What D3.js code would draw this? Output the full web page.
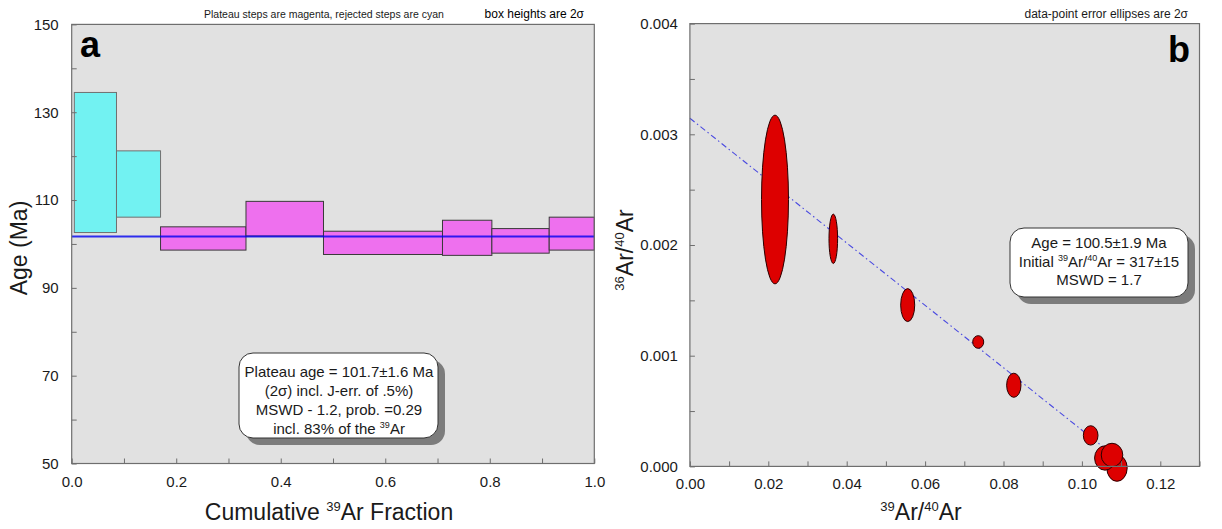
<!DOCTYPE html>
<html><head><meta charset="utf-8">
<script src="https://cdn.jsdelivr.net/npm/d3@7"></script>
<style>body{margin:0;background:#fff}svg{display:block;font-family:"Liberation Sans",Arial,sans-serif}</style>
</head><body><svg id="c" width="1222" height="529"></svg>
<script>
// ---------- Panel a data: step-heating age spectrum ----------
const stepStart   = [0.005, 0.0857, 0.170, 0.3335, 0.4818, 0.7095, 0.804, 0.9137];
const stepEnd     = [0.0857, 0.170, 0.3335, 0.4818, 0.7095, 0.804, 0.9137, 1.0];
const ageHigh     = [134.5, 121.2, 103.9, 109.7, 102.9, 105.4, 103.5, 106.1];
const ageLow      = [102.6, 106.1, 98.6, 101.8, 97.6, 97.4, 97.9, 98.6];
const stepPlateau = [false, false, true, true, true, true, true, true];
const plateauAge  = 101.7;
const ageTicks    = [50, 60, 70, 80, 90, 100, 110, 120, 130, 140, 150];
const ageLabels   = [50, 70, 90, 110, 130, 150];
const fracTicks   = [0, 0.1, 0.2, 0.3, 0.4, 0.5, 0.6, 0.7, 0.8, 0.9, 1.0];
const fracLabels  = [0, 0.2, 0.4, 0.6, 0.8, 1.0];

// ---------- Panel b data: inverse isochron ----------
const ellX  = [0.02171, 0.03658, 0.05556, 0.07355, 0.08263, 0.10224, 0.10895, 0.10589, 0.10768];
const ellY  = [0.002411, 0.002056, 0.001457, 0.001124, 0.000733, 0.000280, -0.0000145, 0.0000759, 0.000103];
const ellRX = [0.00344, 0.00110, 0.00179, 0.00140, 0.00183, 0.00187, 0.00260, 0.00265, 0.00275];
const ellRY = [0.000762, 0.000223, 0.000149, 0.000057, 0.000109, 0.0000875, 0.000120, 0.000110, 0.000106];
const isoIntercept = 0.003145;
const isoSlope = -0.02817;
const arXTicks  = [0,0.01,0.02,0.03,0.04,0.05,0.06,0.07,0.08,0.09,0.10,0.11,0.12,0.13];
const arXLabels = [0,0.02,0.04,0.06,0.08,0.10,0.12];
const arYTicks  = [0,0.0005,0.001,0.0015,0.002,0.0025,0.003,0.0035,0.004];
const arYLabels = [0,0.001,0.002,0.003,0.004];

const legendA = ["Plateau age = 101.7\u00b11.6 Ma", "(2\u03c3) incl. J-err. of .5%)", "MSWD - 1.2, prob. =0.29", "incl. 83% of the {39}Ar"];
const legendB = ["Age = 100.5\u00b11.9 Ma", "Initial {39}Ar/{40}Ar = 317\u00b115", "MSWD = 1.7"];

const svg = d3.select("#c");
const BG = "#e1e1e1", FRAME = "#6e6e6e", TXT = "#1a1a1a";

function rich(textSel, str, supSize, raise){
  const parts = str.split(/(\{\d+\})/).filter(p => p.length);
  let up = false;
  parts.forEach(p => {
    const m = p.match(/^\{(\d+)\}$/);
    const t = textSel.append("tspan");
    if (m) { t.text(m[1]).attr("font-size", supSize).attr("dy", -raise); up = true; }
    else { t.text(p); if (up) { t.attr("dy", raise); up = false; } }
  });
}

function styleAxis(g){
  g.select(".domain").remove();
  g.selectAll(".tick line").attr("stroke", FRAME);
  g.selectAll(".tick text").attr("fill", TXT).attr("font-size", 15);
}

function legend(x0, y0, w, h, lines, baselines, cx){
  const g = svg.append("g");
  g.append("rect").attr("x", x0 + 7).attr("y", y0 + 7).attr("width", w).attr("height", h)
    .attr("rx", 14).attr("fill", "#7c7c7c");
  g.append("rect").attr("x", x0).attr("y", y0).attr("width", w).attr("height", h)
    .attr("rx", 14).attr("fill", "#fff").attr("stroke", "#333").attr("stroke-width", 1);
  lines.forEach((s, i) => {
    const t = g.append("text").attr("x", cx).attr("y", baselines[i]).attr("text-anchor", "middle")
      .attr("font-size", 15).attr("fill", TXT);
    rich(t, s, 9, 6);
  });
}

// ================= Panel a =================
const xA = d3.scaleLinear([0, 1], [71.7, 594.3]);
const yA = d3.scaleLinear([50, 150], [463.5, 24.4]);

svg.append("rect").attr("x", xA(0)).attr("y", yA(150)).attr("width", xA(1) - xA(0)).attr("height", yA(50) - yA(150))
  .attr("fill", BG);

const steps = stepStart.map((s, i) => ({s, e: stepEnd[i], hi: ageHigh[i], lo: ageLow[i], p: stepPlateau[i]}));
svg.append("g").selectAll("rect").data(steps).join("rect")
  .attr("x", d => xA(d.s)).attr("width", d => xA(d.e) - xA(d.s))
  .attr("y", d => yA(d.hi)).attr("height", d => yA(d.lo) - yA(d.hi))
  .attr("fill", d => d.p ? "#ee70ee" : "#72f2f2")
  .attr("stroke", d => d.p ? "#3a3a3a" : "#707070").attr("stroke-width", 1);

svg.append("line").attr("x1", xA(0)).attr("x2", xA(1)).attr("y1", yA(plateauAge)).attr("y2", yA(plateauAge))
  .attr("stroke", "#0000f0").attr("stroke-opacity", 0.8).attr("stroke-width", 1.8);

svg.append("g").attr("transform", `translate(${xA(0)},0)`)
  .call(d3.axisLeft(yA).tickValues(ageTicks).tickSize(-5).tickPadding(13)
    .tickFormat(v => ageLabels.includes(v) ? d3.format("d")(v) : ""))
  .call(styleAxis);
svg.append("g").attr("transform", `translate(0,${yA(50)})`)
  .call(d3.axisBottom(xA).tickValues(fracTicks).tickSize(-5).tickPadding(13)
    .tickFormat(v => fracLabels.some(l => Math.abs(l - v) < 1e-9) ? d3.format(".1f")(v) : ""))
  .call(styleAxis);

svg.append("rect").attr("x", xA(0)).attr("y", yA(150)).attr("width", xA(1) - xA(0)).attr("height", yA(50) - yA(150))
  .attr("fill", "none").attr("stroke", FRAME).attr("stroke-width", 1.2);

svg.append("text").attr("x", 80).attr("y", 57).attr("font-size", 36).attr("font-weight", "bold")
  .attr("fill", "#000").text("a");
svg.append("text").attr("x", 204).attr("y", 18).attr("font-size", 10.5).attr("fill", TXT)
  .text("Plateau steps are magenta, rejected steps are cyan");
svg.append("text").attr("x", 584).attr("y", 18).attr("font-size", 12).attr("fill", "#000")
  .attr("text-anchor", "end").text("box heights are 2\u03c3");

svg.append("text").attr("transform", "translate(27,248) rotate(-90)").attr("text-anchor", "middle")
  .attr("font-size", 23).attr("fill", TXT).text("Age (Ma)");
{
  const t = svg.append("text").attr("x", 329).attr("y", 520).attr("text-anchor", "middle")
    .attr("font-size", 23).attr("fill", TXT);
  rich(t, "Cumulative {39}Ar Fraction", 13, 9);
}

legend(239, 353, 199, 85, legendA, [377, 396, 415, 434], 339);

// ================= Panel b =================
const xB = d3.scaleLinear([0, 0.13], [689.9, 1199.5]);
const yB = d3.scaleLinear([0, 0.004], [466.4, 23.6]);

svg.append("rect").attr("x", xB(0)).attr("y", yB(0.004)).attr("width", xB(0.13) - xB(0)).attr("height", yB(0) - yB(0.004))
  .attr("fill", BG);

const xInt = -isoIntercept / isoSlope;
svg.append("line").attr("x1", xB(0)).attr("y1", yB(isoIntercept)).attr("x2", xB(xInt)).attr("y2", yB(0))
  .attr("stroke", "#4a4ae0").attr("stroke-width", 1.1).attr("stroke-dasharray", "6,3,1.5,3");

const ells = ellX.map((x, i) => ({x, y: ellY[i], rx: ellRX[i], ry: ellRY[i]}));
svg.append("g").selectAll("ellipse").data(ells).join("ellipse")
  .attr("cx", d => xB(d.x)).attr("cy", d => yB(d.y))
  .attr("rx", d => xB(d.rx) - xB(0)).attr("ry", d => yB(0) - yB(d.ry))
  .attr("fill", "#dd0000").attr("stroke", "#2a0000").attr("stroke-width", 1);

svg.append("g").attr("transform", `translate(${xB(0)},0)`)
  .call(d3.axisLeft(yB).tickValues(arYTicks).tickSize(-5).tickPadding(12)
    .tickFormat(v => arYLabels.some(l => Math.abs(l - v) < 1e-12) ? d3.format(".3f")(v) : ""))
  .call(styleAxis);
svg.append("g").attr("transform", `translate(0,${yB(0)})`)
  .call(d3.axisBottom(xB).tickValues(arXTicks).tickSize(-5).tickPadding(12)
    .tickFormat(v => arXLabels.some(l => Math.abs(l - v) < 1e-12) ? d3.format(".2f")(v) : ""))
  .call(styleAxis);

svg.append("rect").attr("x", xB(0)).attr("y", yB(0.004)).attr("width", xB(0.13) - xB(0)).attr("height", yB(0) - yB(0.004))
  .attr("fill", "none").attr("stroke", FRAME).attr("stroke-width", 1.2);

svg.append("text").attr("x", 1190).attr("y", 62).attr("font-size", 36).attr("font-weight", "bold")
  .attr("text-anchor", "end").attr("fill", "#000").text("b");
svg.append("text").attr("x", 1188).attr("y", 18).attr("font-size", 12).attr("fill", TXT)
  .attr("text-anchor", "end").text("data-point error ellipses are 2\u03c3");

{
  const t = svg.append("text").attr("transform", "translate(633,250) rotate(-90)").attr("text-anchor", "middle")
    .attr("font-size", 23).attr("fill", TXT);
  rich(t, "{36}Ar/{40}Ar", 13, 9);
  const t2 = svg.append("text").attr("x", 921).attr("y", 520).attr("text-anchor", "middle")
    .attr("font-size", 23).attr("fill", TXT);
  rich(t2, "{39}Ar/{40}Ar", 13, 9);
}

legend(1010, 228, 178, 69, legendB, [248.3, 266.7, 285.3], 1099);
</script></body></html>
